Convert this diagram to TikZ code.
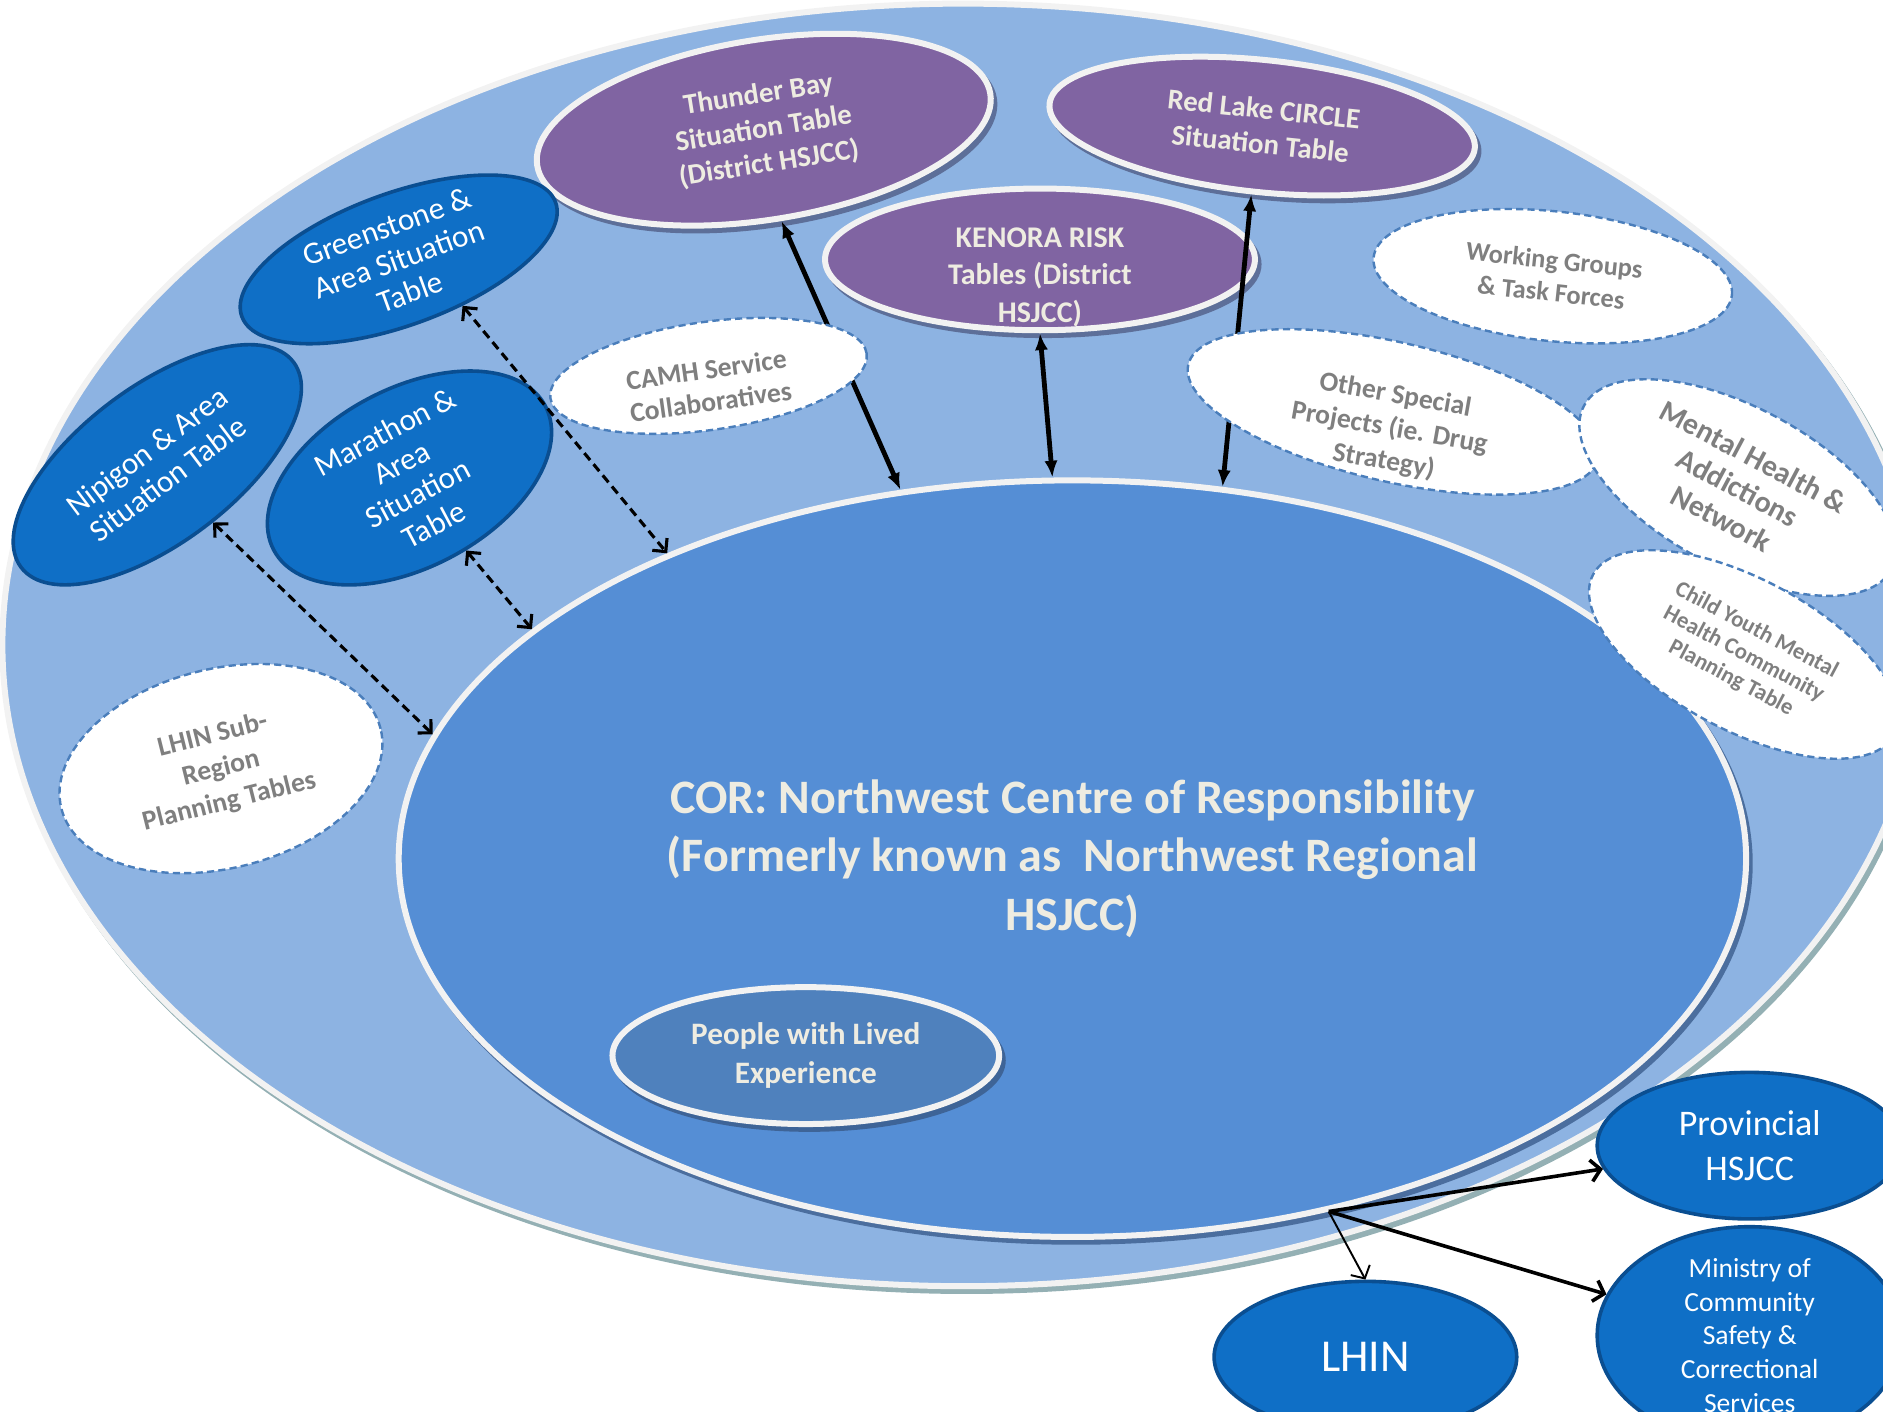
\documentclass[tikz,border=0pt]{standalone}
\usepackage{fontspec}
\setmainfont{Carlito}
\usetikzlibrary{shapes.geometric,arrows.meta}
\definecolor{outerfill}{HTML}{8DB3E2}
\definecolor{corfill}{HTML}{558ED5}
\definecolor{pplfill}{HTML}{4F81BD}
\definecolor{purp}{HTML}{8064A2}
\definecolor{darkblue}{HTML}{0F6FC6}
\definecolor{darkbord}{HTML}{0A4E91}
\definecolor{rim}{HTML}{F2F2F2}
\definecolor{cream}{HTML}{EEECE1}
\definecolor{graytxt}{HTML}{7F7F7F}
\definecolor{dashcol}{HTML}{4A7EBB}
\definecolor{outshadow}{HTML}{94B0B4}
\definecolor{corshadow}{HTML}{4B6E9E}
\definecolor{pplshadow}{HTML}{3E6497}
\definecolor{purpshadow}{HTML}{5D6F99}
\newcommand\fsz[2]{\fontsize{#1pt}{#2pt}\selectfont}
\begin{document}
\begin{tikzpicture}[x=1pt,y=-1pt,
  shad/.style={preaction={fill=#1,draw=#1,transform canvas={shift={(3pt,-4pt)}}}},
  rimnode/.style={ellipse,draw=rim,line width=5pt,inner sep=0pt,align=center,text=cream},
  purpnode/.style={rimnode,fill=purp,shad=purpshadow,font=\bfseries\fsz{24}{29}},
  darknode/.style={ellipse,fill=darkblue,draw=darkbord,line width=3pt,inner sep=0pt,align=center,text=white,font=\fsz{26}{29}},
  dashnode/.style={ellipse,fill=white,draw=dashcol,line width=2pt,dash pattern=on 6pt off 3.5pt,inner sep=0pt,align=center,text=graytxt,font=\bfseries\fsz{23}{28}},
  txtnode/.style={inner sep=0pt,align=center},
  solidarr/.style={line width=4pt,arrows={Latex[length=14pt,width=11pt]-Latex[length=14pt,width=11pt]}},
  dasharr/.style={line width=2.6pt,dash pattern=on 7.5pt off 4.5pt,arrows={Straight Barb[length=8pt,width=16pt]-Straight Barb[length=8pt,width=16pt]}},
  outarr/.style={line width=#1,-{Straight Barb[length=8pt,width=18pt]}}
]
\useasboundingbox (0,0) rectangle (1568,1175);
\clip (0,0) rectangle (1568,1175);
% outer region
\node[rimnode,fill=outerfill,shad=outshadow,minimum width=1600pt,minimum height=1068pt] (region) at (802,537) {};
% centre of responsibility
\node[rimnode,fill=corfill,shad=corshadow,minimum width=1122pt,minimum height=630pt,font=\bfseries\fsz{40}{48.5}] (cor) at (893,715)
  {COR: Northwest Centre of Responsibility\\(Formerly known as~~Northwest Regional\\HSJCC)};
\node[rimnode,fill=pplfill,shad=pplshadow,minimum width=322pt,minimum height=114pt,font=\bfseries\fsz{26}{32}] (ppl) at (671,879)
  {People with Lived\\Experience};
% purple tables
\node[purpnode,rotate=9,minimum width=382pt,minimum height=150pt] (tb) at (636,108)
  {Thunder Bay\\Situation Table\\(District HSJCC)};
\node[purpnode,rotate=-6,minimum width=356pt,minimum height=110pt] (rl) at (1051,105)
  {Red Lake CIRCLE\\Situation Table};
\node[purpnode,minimum width=358pt,minimum height=118pt] (ken) at (866,216) {};
\node[txtnode,text=cream,font=\bfseries\fsz{25}{31.5}] (kentxt) at (866,231) {KENORA RISK\\Tables (District\\HSJCC)};
% dark blue situation tables
\node[darknode,rotate=20,minimum width=278pt,minimum height=110pt] (gs) at (332,216)
  {Greenstone \&\\Area Situation\\Table};
\node[darknode,rotate=37,minimum width=284pt,minimum height=130pt] (nip) at (131,387)
  {Nipigon \& Area\\Situation Table};
\node[darknode,rotate=28,minimum width=256pt,minimum height=126pt] (mar) at (341,398)
  {Marathon \&\\Area\\Situation\\Table};
% connectors to the COR
\draw[solidarr] (tb.-88) -- (cor.115);
\draw[solidarr] (ken.south) -- (cor.93);
\draw[solidarr] (rl.-93) -- (cor.68);
\draw[dasharr] (gs.-56) -- (cor.143);
\draw[dasharr] (mar.-80) -- (cor.157);
\draw[dasharr] (nip.-83) -- (cor.169);
% dashed white groups
\node[dashnode,rotate=8,minimum width=266pt,minimum height=90pt] (camh) at (590,313) {};
\node[txtnode,rotate=8,text=graytxt,font=\bfseries\fsz{23}{27}] (camhtxt) at (590,321) {CAMH Service\\Collaboratives};
\node[dashnode,rotate=-6,minimum width=300pt,minimum height=108pt,font=\bfseries\fsz{22}{27}] (wg) at (1293,230)
  {Working Groups\\\& Task Forces};
\node[dashnode,rotate=-13,minimum width=350pt,minimum height=116pt] (osp) at (1160,343) {};
\node[txtnode,rotate=-10,text=graytxt,font=\bfseries\fsz{23}{28}] (osptxt) at (1157,357) {Other Special\\Projects (ie. Drug\\Strategy)};
\node[dashnode,rotate=-28,minimum width=290pt,minimum height=134pt,font=\bfseries\fsz{25}{29}] (mha) at (1447,406)
  {Mental Health \&\\Addictions\\Network};
\node[dashnode,rotate=-28,minimum width=284pt,minimum height=126pt,font=\bfseries\fsz{19}{22.5}] (cymh) at (1452,545)
  {Child Youth Mental\\Health Community\\Planning Table};
\node[dashnode,rotate=14,minimum width=274pt,minimum height=166pt,font=\bfseries\fsz{23}{28.5}] (lsr) at (184,640)
  {LHIN Sub-\\Region\\Planning Tables};
% outside bodies
\node[darknode,minimum width=254pt,minimum height=122pt,font=\fsz{30}{37}] (prov) at (1457,954) {Provincial\\HSJCC};
\node[darknode,minimum width=254pt,minimum height=170pt,font=\fsz{23}{28}] (min) at (1457,1112)
  {Ministry of\\Community\\Safety \&\\Correctional\\Services};
\node[darknode,minimum width=252pt,minimum height=126pt,font=\fsz{38}{44}] (lhin) at (1137,1130) {LHIN};
\coordinate (hub) at (cor.-54);
\draw[outarr=3pt] (hub) -- (prov.189);
\draw[outarr=3pt] (hub) -- (min.164);
\draw[outarr=1.6pt] (hub) -- (lhin.north);
\end{tikzpicture}
\end{document}
